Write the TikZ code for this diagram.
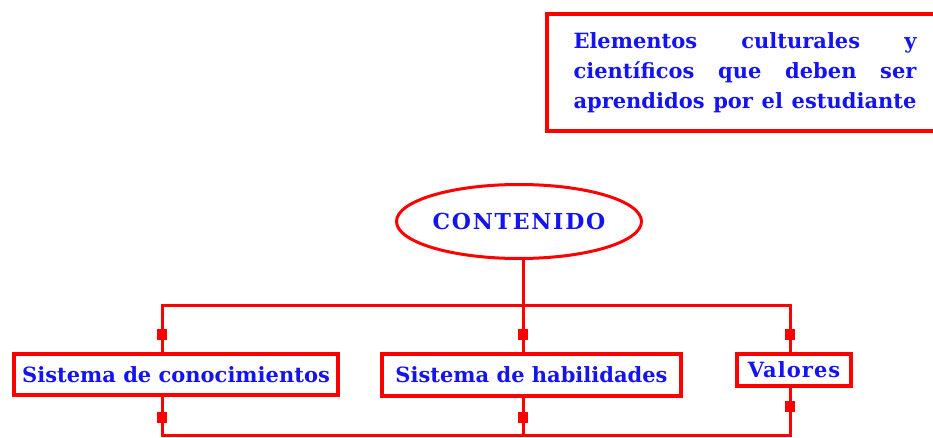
\documentclass[tikz,border=0pt]{standalone}
\usepackage{fontspec}
\setmainfont{DejaVu Serif}
\usetikzlibrary{shapes.geometric,decorations.markings}
\definecolor{rojo}{RGB}{255,0,0}
\definecolor{azul}{RGB}{20,20,240}

\tikzset{
  caja/.style={draw=rojo, line width=4pt, inner sep=0pt, text=azul,
    font=\bfseries\fontsize{21}{24}\selectfont},
  linea/.style={draw=rojo, line width=3pt, line cap=rect},
  flecha/.style={draw=rojo, line width=3pt, postaction={decorate},
    decoration={markings, mark=at position -18pt with {\fill[rojo] (-5.5pt,-5pt) rectangle (5.5pt,5pt);}}}
}

\begin{document}
\begin{tikzpicture}[x=1pt,y=-1pt]
\useasboundingbox (0,0) rectangle (933,438);

\node[caja, minimum width=396pt, minimum height=117pt, text width=343pt, align=left,
  font=\bfseries\fontsize{21}{30}\selectfont] (nota) at (745,72.5)
  {Elementos\hfill culturales\hfill y\\
   científicos\hfill que\hfill deben\hfill ser\\
   aprendidos\hfill por\hfill el\hfill estudiante};

\node[ellipse, draw=rojo, line width=3pt, text=azul, inner sep=0pt,
  minimum width=245pt, minimum height=74pt,
  font=\bfseries\fontsize{22}{24}\selectfont\addfontfeatures{LetterSpace=8}] (cont) at (519,221.5) {CONTENIDO};

\node[caja, minimum width=324pt, minimum height=41pt] (con) at (176,374.5) {Sistema de conocimientos};
\node[caja, minimum width=299pt, minimum height=42pt] (hab) at (531.5,375) {Sistema de habilidades};
\node[caja, minimum width=114pt, minimum height=32pt,
  font=\bfseries\fontsize{21}{24}\selectfont\addfontfeatures{LetterSpace=5}] (val) at (794,370) {Valores};

\coordinate (b1) at (162,305);
\coordinate (b2) at (523,305);
\coordinate (b3) at (790,305);
\coordinate (d1) at (162,435);
\coordinate (d2) at (523,435);
\coordinate (d3) at (790,435);

\draw[linea] (b2 |- cont.south) -- (b2);
\draw[linea] (b1) -- (b3);
\draw[linea] (d1) -- (d3);

\draw[flecha] (b1) -- (b1 |- con.north);
\draw[flecha] (b2) -- (b2 |- hab.north);
\draw[flecha] (b3) -- (b3 |- val.north);
\draw[flecha] (b1 |- con.south) -- (d1);
\draw[flecha] (b2 |- hab.south) -- (d2);
\draw[flecha] (d3) -- (b3 |- val.south);
\end{tikzpicture}
\end{document}
